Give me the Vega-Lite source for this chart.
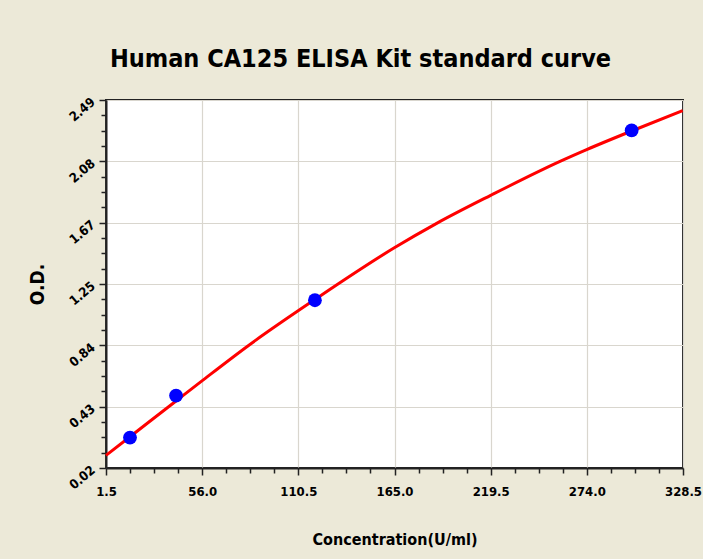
{
  "$schema": "https://vega.github.io/schema/vega-lite/v6.json",
  "autosize": {"type": "none"},
  "width": 577,
  "height": 368,
  "padding": {"left": 106, "top": 100, "right": 20, "bottom": 91},
  "background": "#ECE9D8",
  "config": {
    "view": {"fill": "white", "stroke": "#222222", "strokeWidth": 2},
    "font": "DejaVu Sans Condensed, Liberation Sans"
  },
  "title": {
    "text": "Human CA125 ELISA Kit standard curve",
    "font": "DejaVu Sans Condensed, Liberation Sans",
    "fontSize": 25,
    "fontWeight": "bold",
    "color": "black",
    "anchor": "middle",
    "frame": "group",
    "dx": -34,
    "dy": 30,
    "baseline": "alphabetic",
    "offset": 33
  },
  "datasets": {
    "points": [
      {"c": 15.1, "od": 0.224},
      {"c": 41.2, "od": 0.506},
      {"c": 119.9, "od": 1.146},
      {"c": 299.4, "od": 2.286}
    ],
    "curve": [
      {"c": 1.5, "od": 0.105},
      {"c": 15.1, "od": 0.23},
      {"c": 41.2, "od": 0.47},
      {"c": 55.7, "od": 0.603},
      {"c": 82.1, "od": 0.841},
      {"c": 119.9, "od": 1.151},
      {"c": 164.9, "od": 1.498},
      {"c": 188.9, "od": 1.662},
      {"c": 219.5, "od": 1.85},
      {"c": 258.8, "od": 2.078},
      {"c": 273.9, "od": 2.157},
      {"c": 299.4, "od": 2.282},
      {"c": 328.3, "od": 2.418}
    ]
  },
  "resolve": {"axis": {"x": "independent", "y": "independent"}},
  "layer": [
    {
      "data": {"name": "curve"},
      "mark": {"type": "line", "color": "#FF0000", "strokeWidth": 3, "interpolate": "monotone"},
      "encoding": {
        "x": {
          "field": "c", "type": "quantitative",
          "scale": {"domain": [1.5, 328.5], "nice": false, "zero": false},
          "axis": {
            "orient": "bottom",
            "values": [1.5, 56, 110.5, 165, 219.5, 274, 328.5],
            "format": ".1f",
            "grid": true, "gridColor": "#D9D6CE", "gridWidth": 1.2,
            "domainColor": "#222222", "domainWidth": 2,
            "tickColor": "#222222", "tickSize": 7, "tickWidth": 1.5,
            "labelFont": "DejaVu Sans Condensed, Liberation Sans", "labelFontWeight": "bold", "labelFontSize": 13, "labelColor": "black",
            "labelPadding": 10, "labelFlush": false, "labelOverlap": false,
            "title": "Concentration(U/ml)",
            "titleFont": "DejaVu Sans Condensed, Liberation Sans", "titleFontSize": 16, "titleFontWeight": "bold", "titleColor": "black",
            "titlePadding": 33
          }
        },
        "y": {
          "field": "od", "type": "quantitative",
          "scale": {"domain": [0.02, 2.49], "nice": false, "zero": false},
          "axis": {
            "orient": "left",
            "values": [0.02, 0.43167, 0.84333, 1.255, 1.66667, 2.07833, 2.49],
            "format": ".2f",
            "grid": true, "gridColor": "#D9D6CE", "gridWidth": 1.2,
            "domainColor": "#222222", "domainWidth": 2,
            "tickColor": "#222222", "tickSize": 7, "tickWidth": 1.5,
            "labelFont": "DejaVu Sans Condensed, Liberation Sans", "labelFontWeight": "bold", "labelFontSize": 13, "labelColor": "black",
            "labelAngle": -40, "labelAlign": "right", "labelBaseline": "middle",
            "labelPadding": 6, "labelFlush": false, "labelOverlap": false,
            "title": "O.D.",
            "titleFont": "DejaVu Sans Condensed, Liberation Sans", "titleFontSize": 19, "titleFontWeight": "bold", "titleColor": "black",
            "titlePadding": 20
          }
        }
      }
    },
    {
      "data": {"name": "points"},
      "mark": {"type": "point", "shape": "circle", "filled": true, "color": "#0000FF", "size": 190, "opacity": 1},
      "encoding": {
        "x": {"field": "c", "type": "quantitative", "scale": {"domain": [1.5, 328.5], "nice": false, "zero": false}, "axis": null},
        "y": {"field": "od", "type": "quantitative", "scale": {"domain": [0.02, 2.49], "nice": false, "zero": false}, "axis": null}
      }
    },
    {
      "data": {"name": "points"},
      "mark": {"type": "point", "opacity": 0},
      "encoding": {
        "x": {
          "field": "c", "type": "quantitative",
          "scale": {"domain": [1.5, 328.5], "nice": false, "zero": false},
          "axis": {
            "orient": "bottom",
            "values": [15.125, 28.75, 42.375, 69.625, 83.25, 96.875, 124.125, 137.75, 151.375, 178.625, 192.25, 205.875, 233.125, 246.75, 260.375, 287.625, 301.25, 314.875],
            "labels": false, "grid": false, "domain": false,
            "tickColor": "#222222", "tickSize": 5, "tickWidth": 1.5,
            "title": null
          }
        },
        "y": {
          "field": "od", "type": "quantitative",
          "scale": {"domain": [0.02, 2.49], "nice": false, "zero": false},
          "axis": {
            "orient": "left",
            "values": [0.12292, 0.22583, 0.32875, 0.53458, 0.6375, 0.74042, 0.94625, 1.04917, 1.15208, 1.35792, 1.46083, 1.56375, 1.76958, 1.8725, 1.97542, 2.18125, 2.28417, 2.38708],
            "labels": false, "grid": false, "domain": false,
            "tickColor": "#222222", "tickSize": 5, "tickWidth": 1.5,
            "title": null
          }
        }
      }
    }
  ]
}
